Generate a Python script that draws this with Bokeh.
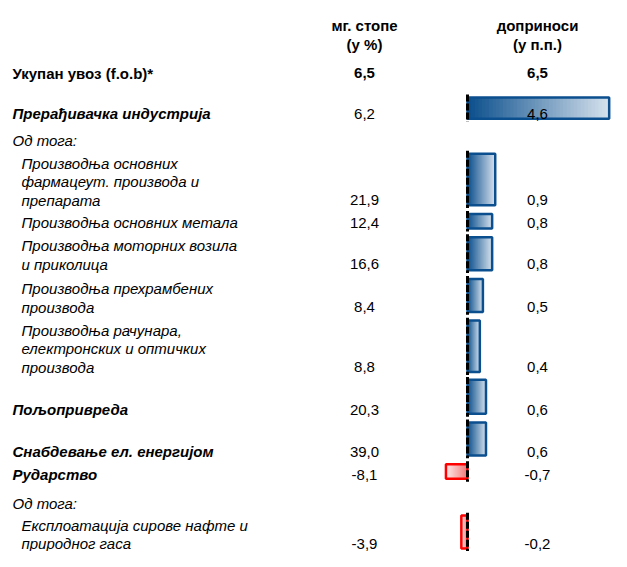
import numpy as np
from bokeh.plotting import figure
from bokeh.models import Range1d, ColumnDataSource
from bokeh.core.properties import value
from bokeh.embed import file_html
from bokeh.resources import INLINE

# ---------------- data ----------------
header_growth = ["мг. стопе", "(у %)"]
header_contrib = ["доприноси", "(у п.п.)"]

labels = [
    "Укупан увоз (f.o.b)*",
    "Прерађивачка индустрија",
    "Од тога:",
    "Производња основних\nфармацеут. производа и\nпрепарата",
    "Производња основних метала",
    "Производња моторних возила\nи приколица",
    "Производња прехрамбених\nпроизвода",
    "Производња рачунара,\nелектронских и оптичких\nпроизвода",
    "Пољопривреда",
    "Снабдевање ел. енергијом",
    "Рударство",
    "Од тога:",
    "Експлоатација сирове нафте и\nприродног гаса",
]
growth = [6.5, 6.2, None, 21.9, 12.4, 16.6, 8.4, 8.8, 20.3, 39.0, -8.1, None, -3.9]
contrib = [6.5, 4.6, None, 0.9, 0.8, 0.8, 0.5, 0.4, 0.6, 0.6, -0.7, None, -0.2]
kind = ["total", "main", "sub_head", "sub", "sub", "sub", "sub", "sub",
        "main", "main", "main", "sub_head", "sub"]

# ---------------- layout (reference pixel grid) ----------------
row_y = [74, 116, 143, 205, 228, 271, 315, 377, 421, 464, 488, 518, 559]
bar_top = [None, 99, None, 157, 219, 243, 286, 329, 390, 434, 477, None, 530]
bar_bot = [None, 121, None, 210, 234, 277, 320, 382, 425, 468, 492, None, 564]
line_gap = 19
col_growth_x = 364
col_contrib_x = 537
W, H = 611, 551
zero_px = 467
px_per_unit = 30.8

FONT = "Liberation Sans"
FS = "15px"


def fmt(v):
    return f"{v:.1f}".replace(".", ",")


p = figure(width=W, height=H, output_backend="svg", toolbar_location=None,
           x_axis_type=None, y_axis_type=None, min_border=0,
           x_range=Range1d(-zero_px / px_per_unit, (W - zero_px) / px_per_unit),
           y_range=Range1d(start=567, end=-1))
p.extra_x_ranges = {"px": Range1d(0, W)}
p.grid.visible = False
p.outline_line_color = None
p.background_fill_color = "white"
p.border_fill_color = "white"

# ---------------- bars with gradient (dark at zero -> light at bar end) ----------------
N = 40
blue_dark = np.array([10, 78, 140])
blue_light = np.array([214, 226, 237])
red_dark = np.array([240, 120, 120])
red_light = np.array([255, 236, 236])

gl, gr, gt, gb, gc = [], [], [], [], []
ol, orr, ot, ob, oc = [], [], [], [], []
zx, zy0, zy1 = [], [], []
for i, v in enumerate(contrib):
    if bar_top[i] is None or v is None:
        continue
    edges = np.linspace(0, v, N + 1)
    dark, light = (blue_dark, blue_light) if v > 0 else (red_dark, red_light)
    for k in range(N):
        t = (k + 0.5) / N
        c = dark + (light - dark) * t
        # each slice runs from its start to the bar end; later slices overlay
        gl.append(min(edges[k], v))
        gr.append(max(edges[k], v))
        gt.append(bar_top[i])
        gb.append(bar_bot[i])
        gc.append("#%02x%02x%02x" % tuple(int(round(x)) for x in c))
    ol.append(min(0, v))
    orr.append(max(0, v))
    ot.append(bar_top[i])
    ob.append(bar_bot[i])
    oc.append("#0b4f8f" if v > 0 else "#ff0000")
    zx.append(0)
    zy0.append(bar_top[i] - 3)
    zy1.append(bar_bot[i] + 3)

p.quad(left=gl, right=gr, top=gt, bottom=gb, fill_color=gc, line_color=None)
p.quad(left=ol, right=orr, top=ot, bottom=ob, fill_color=None,
       line_color=oc, line_width=2.5)
p.segment(x0=zx, x1=zx, y0=zy0, y1=zy1, line_color="black", line_width=3,
          line_dash="7 2")

# ---------------- texts ----------------
def add_text(xs, ys, texts, style, align, color="black"):
    src = ColumnDataSource(dict(x=xs, y=ys, t=texts))
    p.text(x="x", y="y", text="t", source=src, x_range_name="px",
           text_font=value(FONT), text_font_size=FS, text_font_style=style,
           text_align=align, text_baseline="middle", text_color=color)

# headers
for j, (a, b) in enumerate(zip(header_growth, header_contrib)):
    add_text([col_growth_x, col_contrib_x], [25 + j * 19, 25 + j * 19], [a, b], "bold", "center")

label_style = {"total": "bold", "main": "bold italic", "sub_head": "italic", "sub": "italic"}
label_x = {"total": 12, "main": 12, "sub_head": 12, "sub": 21}
for i, lab in enumerate(labels):
    lines = lab.split("\n")
    n = len(lines)
    ys = [row_y[i] - (n - 1 - k) * line_gap for k in range(n)]
    add_text([label_x[kind[i]]] * n, ys, lines, label_style[kind[i]], "left")
    st = "bold" if kind[i] == "total" else "normal"
    if growth[i] is not None:
        add_text([col_growth_x], [row_y[i]], [fmt(growth[i])], st, "center")
    if contrib[i] is not None:
        add_text([col_contrib_x], [row_y[i]], [fmt(contrib[i])], st, "center")

open("out.html", "w").write(file_html(p, INLINE))
